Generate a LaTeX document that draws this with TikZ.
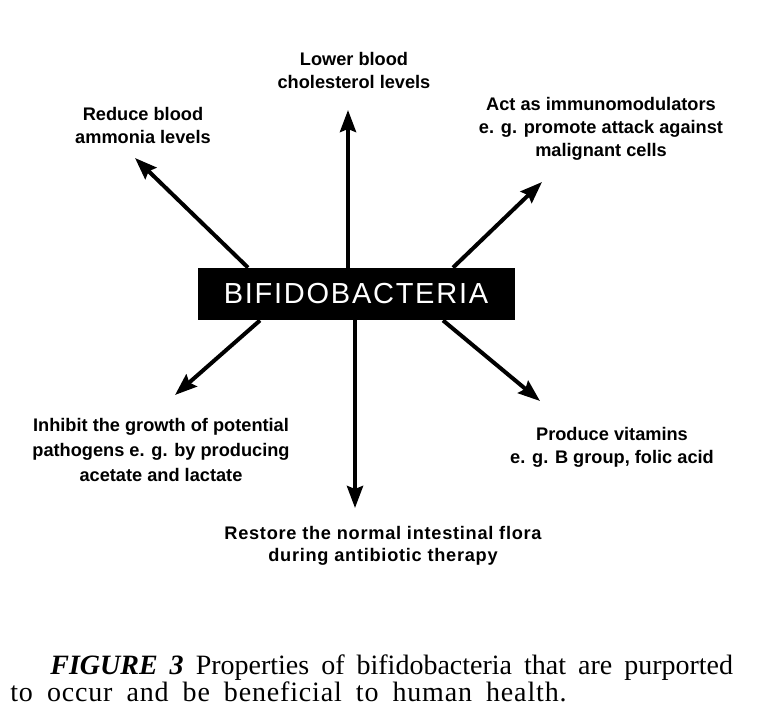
\documentclass[tikz,border=0pt]{standalone}
\usepackage{fontspec}
\setmainfont{Liberation Serif}
\setsansfont{Liberation Sans}
\newfontfamily\boxfont[LetterSpace=6]{Liberation Sans}
\newfontfamily\wideflora[LetterSpace=4]{Liberation Sans}
\usetikzlibrary{arrows.meta}

\begin{document}
\begin{tikzpicture}[x=0.5pt,y=-0.5pt]
  \tikzset{
    lbl/.style={align=center, font=\sffamily\bfseries\fontsize{9.1}{11.5}\selectfont, inner sep=0pt},
    arr/.style={draw=black, line width=2pt, -{Stealth[length=11pt,width=8pt,inset=1.5pt]}},
    bact/.style={fill=black, text=white, minimum width=158.5pt, minimum height=26pt,
      inner sep=0pt, font=\boxfont\fontsize{14.5}{16}\selectfont}
  }
  \useasboundingbox (0,0) rectangle (758,722);

  % tips of the six arrows
  \coordinate (up) at (348,110);
  \coordinate (dn) at (355,508);
  \coordinate (ul) at (135,158);
  \coordinate (ur) at (542,182);
  \coordinate (ll) at (175,395);
  \coordinate (lr) at (540,401);

  % the box in the middle
  \node[bact] (bif) at (356,294) {BIFIDOBACTERIA};

  \draw[arr] (bif.north -| up) -- (up);
  \draw[arr] (bif.south -| dn) -- (dn);
  \draw[arr] ([xshift=-54pt]bif.north) -- (ul);
  \draw[arr] ([xshift=48.5pt]bif.north) -- (ur);
  \draw[arr] ([xshift=-48pt]bif.south) -- (ll);
  \draw[arr] ([xshift=43.5pt]bif.south) -- (lr);

  % labels
  \node[lbl] (chol) at (354,70) {Lower blood\\cholesterol levels};
  \node[lbl] (amm) at (143,125) {Reduce blood\\ammonia levels};
  \node[lbl] (immu) at (601,129) {Act as immunomodulators\\e. g. promote attack against\\malignant cells};
  \node[lbl, font=\sffamily\bfseries\fontsize{9.1}{12.3}\selectfont] (path) at (161,450) {Inhibit the growth of potential\\pathogens e. g. by producing\\acetate and lactate};
  \node[lbl] (vit) at (612,447) {Produce vitamins\\e. g. B group, folic acid};
  \node[lbl, font=\wideflora\bfseries\fontsize{9.1}{11.3}\selectfont] (flora) at (383,546) {Restore the normal intestinal flora\\during antibiotic therapy};

  % caption
  \node[anchor=north west, inner sep=0pt, align=left, font=\fontsize{14}{12.5}\selectfont]
    (cap) at (10,654) {\spaceskip=6pt plus 1pt\hspace*{20pt}\textbf{\textit{FIGURE 3}} Properties of bifidobacteria that are purported\\\addfontfeature{LetterSpace=3}\spaceskip=7pt\relax to occur and be beneficial to human health.};
\end{tikzpicture}
\end{document}
